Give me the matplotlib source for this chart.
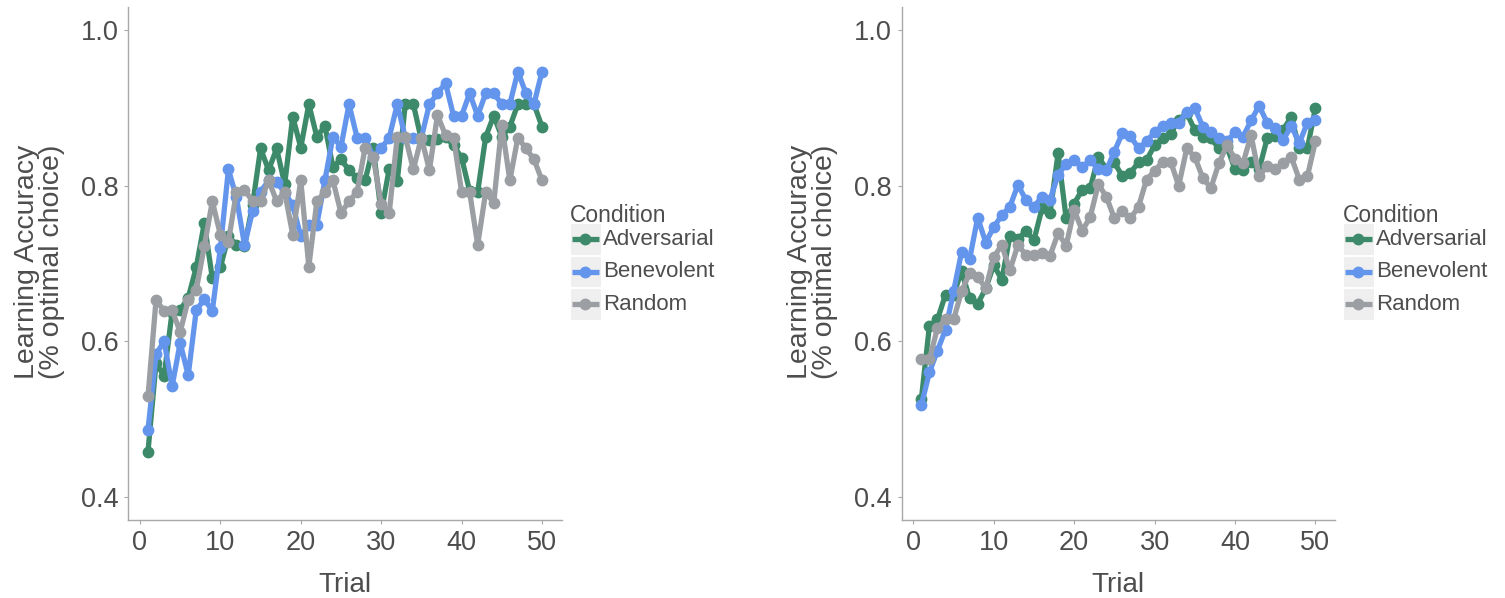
import matplotlib
matplotlib.use("Agg")
import matplotlib.pyplot as plt
from matplotlib.lines import Line2D
from matplotlib.patches import Rectangle

plt.rcParams['font.family'] = ['Liberation Sans', 'DejaVu Sans']

trials = list(range(1, 51))
conditions = ["Adversarial", "Benevolent", "Random"]
colors = ["#3d8a6a", "#6495ed", "#9b9ea2"]

left_adversarial = [0.458, 0.572, 0.555, 0.638, 0.640, 0.656, 0.695, 0.752, 0.681, 0.695,
                    0.735, 0.724, 0.722, 0.775, 0.848, 0.820, 0.848, 0.802, 0.889, 0.849,
                    0.905, 0.863, 0.877, 0.824, 0.834, 0.820, 0.810, 0.807, 0.849, 0.765,
                    0.822, 0.806, 0.905, 0.905, 0.859, 0.859, 0.860, 0.863, 0.852, 0.836,
                    0.793, 0.792, 0.863, 0.890, 0.863, 0.876, 0.905, 0.905, 0.905, 0.876]
left_benevolent = [0.486, 0.583, 0.600, 0.542, 0.598, 0.556, 0.640, 0.654, 0.639, 0.720,
                   0.821, 0.785, 0.724, 0.767, 0.792, 0.807, 0.805, 0.791, 0.775, 0.735,
                   0.750, 0.750, 0.807, 0.863, 0.850, 0.905, 0.862, 0.862, 0.837, 0.848,
                   0.862, 0.905, 0.862, 0.862, 0.862, 0.905, 0.919, 0.932, 0.890, 0.890,
                   0.919, 0.890, 0.919, 0.919, 0.905, 0.905, 0.947, 0.919, 0.905, 0.947]
left_random = [0.529, 0.653, 0.639, 0.640, 0.612, 0.653, 0.666, 0.722, 0.780, 0.737,
               0.728, 0.792, 0.795, 0.780, 0.780, 0.807, 0.780, 0.792, 0.737, 0.807,
               0.696, 0.780, 0.792, 0.807, 0.765, 0.780, 0.792, 0.849, 0.837, 0.777,
               0.765, 0.863, 0.863, 0.821, 0.862, 0.820, 0.891, 0.865, 0.862, 0.792,
               0.792, 0.724, 0.792, 0.778, 0.878, 0.807, 0.862, 0.848, 0.834, 0.807]

right_adversarial = [0.526, 0.620, 0.628, 0.660, 0.660, 0.690, 0.655, 0.648, 0.668, 0.698,
                     0.679, 0.735, 0.731, 0.742, 0.730, 0.771, 0.765, 0.842, 0.758, 0.777,
                     0.795, 0.797, 0.837, 0.822, 0.830, 0.812, 0.817, 0.830, 0.833, 0.852,
                     0.861, 0.867, 0.885, 0.893, 0.872, 0.863, 0.861, 0.848, 0.850, 0.821,
                     0.820, 0.831, 0.821, 0.861, 0.864, 0.872, 0.889, 0.848, 0.848, 0.900]
right_benevolent = [0.518, 0.560, 0.588, 0.615, 0.664, 0.715, 0.706, 0.759, 0.727, 0.747,
                    0.762, 0.773, 0.801, 0.782, 0.773, 0.786, 0.782, 0.814, 0.828, 0.833,
                    0.824, 0.833, 0.821, 0.820, 0.844, 0.868, 0.864, 0.848, 0.857, 0.869,
                    0.877, 0.881, 0.881, 0.895, 0.900, 0.876, 0.869, 0.861, 0.857, 0.869,
                    0.863, 0.884, 0.903, 0.881, 0.874, 0.859, 0.877, 0.855, 0.881, 0.884]
right_random = [0.577, 0.577, 0.617, 0.628, 0.628, 0.664, 0.688, 0.683, 0.668, 0.708,
                0.724, 0.691, 0.724, 0.711, 0.711, 0.714, 0.710, 0.739, 0.723, 0.769,
                0.742, 0.760, 0.802, 0.786, 0.758, 0.767, 0.758, 0.773, 0.808, 0.819,
                0.831, 0.831, 0.800, 0.848, 0.837, 0.810, 0.797, 0.829, 0.852, 0.835,
                0.829, 0.865, 0.813, 0.825, 0.821, 0.829, 0.837, 0.808, 0.812, 0.857]

x_ticks = [0, 10, 20, 30, 40, 50]
y_ticks = [0.4, 0.6, 0.8, 1.0]
y_ticklabels = ["0.4", "0.6", "0.8", "1.0"]

W, H = 1505, 598
fig = plt.figure(figsize=(W / 100, H / 100), dpi=100)
fig.patch.set_facecolor("white")

text_color = "#4d4d4d"
spine_color = "#a8a8a8"

panels = [
    (128.3, [left_adversarial, left_benevolent, left_random], 570),
    (901.7, [right_adversarial, right_benevolent, right_random], 1343),
]

for left_px, series, legend_x in panels:
    ax = fig.add_axes([left_px / W, (H - 520) / H, 433.4 / W, 513 / H])
    for vals, col, name in zip(series, colors, conditions):
        ax.plot(trials, vals, color=col, lw=3.8, marker="o", ms=7.5,
                solid_capstyle="round", solid_joinstyle="round", label=name)
    ax.set_xlim(-1.45, 52.45)
    ax.set_ylim(0.37, 1.03)
    ax.set_xticks(x_ticks)
    ax.set_yticks(y_ticks)
    ax.set_yticklabels(y_ticklabels)
    for s in ["top", "right"]:
        ax.spines[s].set_visible(False)
    for s in ["left", "bottom"]:
        ax.spines[s].set_color(spine_color)
        ax.spines[s].set_linewidth(1.0)
    ax.tick_params(axis="both", colors=spine_color, labelcolor=text_color,
                   labelsize=19.5, length=3, width=0.8, pad=4)
    ax.set_xlabel("Trial", fontsize=20, color=text_color, labelpad=12)
    ax.set_facecolor("white")

    # y label
    fig.text((left_px - 89) / W, 1 - 262 / H, "Learning Accuracy\n(% optimal choice)",
             rotation=90, ha="center", va="center", fontsize=20.5, color=text_color,
             linespacing=0.95, multialignment="center")

    # legend (ggplot style)
    fig.text(legend_x / W, 1 - 215 / H, "Condition", ha="left", va="center",
             fontsize=16.5, color=text_color)
    box_tops = [223.3, 255.7, 288.3]
    for i, (name, col) in enumerate(zip(conditions, colors)):
        top = box_tops[i]
        fig.patches.append(Rectangle((legend_x / W, 1 - (top + 31.5) / H), 30.5 / W, 31.5 / H,
                                     transform=fig.transFigure, facecolor="#efefef",
                                     edgecolor="white", lw=0.8, zorder=1))
        cy = 1 - (top + 16) / H
        fig.lines.append(Line2D([(legend_x + 2) / W, (legend_x + 28.5) / W], [cy, cy],
                                transform=fig.transFigure, color=col, lw=3.8,
                                solid_capstyle="butt", zorder=2))
        fig.lines.append(Line2D([(legend_x + 15.25) / W], [cy], transform=fig.transFigure,
                                color=col, marker="o", ms=7.5, zorder=3))
        fig.text((legend_x + 33) / W, cy, name, ha="left", va="center",
                 fontsize=16, color=text_color)

fig.savefig("out.png", dpi=100, facecolor="white")
